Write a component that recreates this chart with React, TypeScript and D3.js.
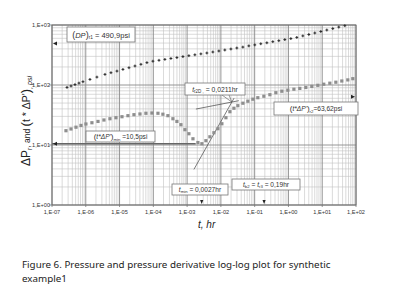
import React from 'react';
import * as d3 from 'd3';

// Pressure change (psi) vs time (hr)
const timeP = [2.78e-7, 3.65e-7, 4.79e-7, 6.29e-7, 8.26e-7, 1.33e-6, 2.14e-6, 3.7e-6, 5.57e-6, 8.38e-6,
  1.26e-5, 1.9e-5, 2.86e-5, 4.3e-5, 6.47e-5, 9.73e-5, 1.47e-4, 2.2e-4, 3.32e-4, 4.99e-4,
  7.52e-4, 1.13e-3, 1.7e-3, 2.56e-3, 3.85e-3, 5.79e-3, 8.73e-3, 1.31e-2, 1.98e-2, 2.97e-2,
  4.48e-2, 6.73e-2, 0.101, 0.152, 0.23, 0.345, 0.52, 0.782, 1.18, 1.77,
  2.67, 4.02, 6.04, 9.1, 13.7, 20.6, 31.0, 46.7];
const pressure = [91.2, 96.2, 101.6, 107.6, 113.5, 124, 135.5, 150.3, 160.3, 170.6,
  182, 194, 207.5, 221.3, 236, 249.3, 258.2, 267.3, 276.7, 286.4,
  297.2, 307.6, 318.6, 329.8, 341.4, 354.8, 368.7, 383.1, 398.1, 413.7,
  428.5, 448.5, 465.9, 486.3, 505, 527, 547.5, 571, 593, 621,
  658, 694.7, 735.6, 779, 825, 871, 923, 973];

// Pressure derivative t*dP' (psi) vs time (hr)
const timeD = [2.59e-7, 3.65e-7, 5.13e-7, 7.21e-7, 1.01e-6, 1.52e-6, 2.3e-6, 3.45e-6, 5.2e-6, 7.82e-6,
  1.18e-5, 1.77e-5, 2.67e-5, 4.02e-5, 6.04e-5, 9.1e-5, 1.37e-4, 1.92e-4, 2.7e-4, 3.8e-4,
  4.99e-4, 6.56e-4, 8.61e-4, 1.13e-3, 1.49e-3, 2.09e-3, 2.74e-3, 3.6e-3, 4.73e-3, 6.21e-3,
  8.15e-3, 1.07e-2, 1.41e-2, 1.85e-2, 2.43e-2, 3.18e-2, 4.48e-2, 6.29e-2, 8.85e-2, 0.124,
  0.187, 0.282, 0.424, 0.638, 0.96, 1.45, 2.17, 3.27, 4.92, 7.41,
  11.1, 16.8, 25.3, 38.0, 57.2, 80.4];
const derivative = [17.3, 18.5, 19.8, 21.2, 22.4, 23.5, 24.7, 26.1, 27.4, 28.5,
  29.6, 30.8, 32.0, 32.9, 33.8, 34.1, 33.8, 32.6, 30.8, 27.4,
  24.7, 21.8, 18.0, 15.4, 12.7, 11.0, 10.5, 11.8, 13.7, 16.0,
  18.7, 22.6, 28.5, 35.9, 41.0, 45.2, 49.7, 53.7, 58.0, 61.4,
  65.0, 68.9, 74.4, 78.8, 81.9, 85.1, 87.8, 90.9, 94.8, 98.8,
  103.1, 107.2, 111.3, 116.6, 121.6, 127.4];

const xTicks = [1e-7, 1e-6, 1e-5, 1e-4, 1e-3, 1e-2, 1e-1, 1, 10, 100];
const xTickLabels = ['1,E-07', '1,E-06', '1,E-05', '1,E-04', '1,E-03', '1,E-02', '1,E-01', '1,E+00', '1,E+01', '1,E+02'];
const yTicks = [1, 10, 100, 1000];
const yTickLabels = ['1,E+00', '1,E+01', '1,E+02', '1,E+03'];

// Characteristic values
const dpR1 = 490.9;
const derivMin = 10.5;
const tMin = 0.0027;
const derivR2 = 63.62;
const tR2D = 0.0211;
const tB2 = 0.19;
const crossValue = 52;

const W = 396;
const H = 297;
const FONT = 'Liberation Sans, Arial, sans-serif';

export default function App() {
  const x = d3.scaleLog().domain([1e-7, 1e2]).range([52, 356]);
  const y = d3.scaleLog().domain([1, 1000]).range([205, 25]);

  const minorX: number[] = [];
  for (let e = -7; e < 2; e++) for (let k = 2; k <= 9; k++) minorX.push(k * Math.pow(10, e));
  const minorY: number[] = [];
  for (let e = 0; e < 3; e++) for (let k = 2; k <= 9; k++) minorY.push(k * Math.pow(10, e));

  const unitSlope = (t: number) => crossValue * (t / tR2D);
  const radialLine = (t: number) => crossValue * Math.pow(t / tR2D, 0.11);
  const lineGen = d3.line<[number, number]>().x(d => x(d[0])).y(d => y(d[1]));
  const usT = [0.00159, 0.0245];
  const rlT = [0.00182, 0.034];

  const ix = x(tR2D);
  const iy = y(crossValue);

  const box = (bx: number, by: number, bw: number, bh: number) => (
    <rect x={bx} y={by} width={bw} height={bh} fill="#fff" stroke="#777" strokeWidth={0.8} />
  );

  return (
    <svg width={W} height={H} style={{ position: 'absolute', left: 0, top: 0, background: '#fff' }} fontFamily={FONT}>
      <rect x={0} y={0} width={W} height={H} fill="#fff" />
      {/* grid */}
      {minorX.map((v, i) => (
        <line key={'mx' + i} x1={x(v)} x2={x(v)} y1={25} y2={205} stroke="#c2c2c2" strokeWidth={0.6} />
      ))}
      {minorY.map((v, i) => (
        <line key={'my' + i} x1={52} x2={356} y1={y(v)} y2={y(v)} stroke="#c2c2c2" strokeWidth={0.6} />
      ))}
      {xTicks.map((v, i) => (
        <line key={'Mx' + i} x1={x(v)} x2={x(v)} y1={25} y2={207} stroke="#8a8a8a" strokeWidth={0.9} />
      ))}
      {yTicks.map((v, i) => (
        <line key={'My' + i} x1={49} x2={356} y1={y(v)} y2={y(v)} stroke="#8a8a8a" strokeWidth={0.9} />
      ))}
      <rect x={52} y={25} width={304} height={180} fill="none" stroke="#666" strokeWidth={0.9} />

      {/* tick labels */}
      {xTicks.map((v, i) => (
        <text key={'xl' + i} x={x(v)} y={214} fontSize={5.6} textAnchor="middle" fill="#333">{xTickLabels[i]}</text>
      ))}
      {yTicks.map((v, i) => (
        <text key={'yl' + i} x={50} y={y(v) + 2} fontSize={5.6} textAnchor="end" fill="#333">{yTickLabels[i]}</text>
      ))}

      {/* min derivative level line */}
      <line x1={x(1e-7)} x2={x(tMin) - 6} y1={y(derivMin)} y2={y(derivMin)} stroke="#666" strokeWidth={1.3} />

      {/* straight lines */}
      <path d={lineGen(usT.map(t => [t, unitSlope(t)]) as [number, number][]) || ''} stroke="#444" strokeWidth={0.7} fill="none" />
      <path d={lineGen(rlT.map(t => [t, radialLine(t)]) as [number, number][]) || ''} stroke="#444" strokeWidth={0.7} fill="none" />

      {/* derivative */}
      {timeD.map((t, i) => (
        <rect key={'d' + i} x={x(t) - 1.6} y={y(derivative[i]) - 1.6} width={3.2} height={3.2} fill="#8e8e8e" />
      ))}
      {/* pressure */}
      {timeP.map((t, i) => {
        const cx = x(t), cy = y(pressure[i]);
        return (
          <path key={'p' + i} d={`M${cx - 1.4},${cy}H${cx + 1.4}M${cx},${cy - 1.4}V${cy + 1.4}`} stroke="#2a2a2a" strokeWidth={1} />
        );
      })}

      {/* arrowheads */}
      <path d={`M${53},${y(dpR1)} l4,-2 v4 z`} fill="#222" />
      <path d={`M${53},${y(derivMin)} l4,-2 v4 z`} fill="#222" />
      <path d={`M${355},${y(derivR2)} l-4,-2 v4 z`} fill="#222" />
      <path d={`M${x(tMin)},${204} l-1.6,-4 h3.2 z`} fill="#222" />
      <path d={`M${x(tB2)},${204} l-1.6,-4 h3.2 z`} fill="#222" />

      {/* annotation: (DP)r1 */}
      {box(67, 27, 68, 15)}
      <text x={101} y={37.5} fontSize={7.5} textAnchor="middle" fill="#333">
        <tspan fontSize={9}>(</tspan><tspan fontStyle="italic">DP</tspan><tspan fontSize={9}>)</tspan>
        <tspan fontSize={4.8} dy={1.8}>r1</tspan><tspan dy={-1.8}> = 490,9psi</tspan>
      </text>

      {/* annotation: t_r2D */}
      <path d={`M${222},${95} L${ix},${iy} M${229},${95} L${ix},${iy}`} stroke="#555" strokeWidth={0.6} />
      {box(185, 83, 60, 12)}
      <text x={215} y={91.8} fontSize={6.8} textAnchor="middle" fill="#333">
        <tspan fontStyle="italic">t</tspan><tspan fontSize={4.5} dy={1.5}>r2D ,</tspan><tspan dy={-1.5}> = 0,0211hr</tspan>
      </text>

      {/* annotation: (t*dP')r2 */}
      {box(274, 102, 84, 13)}
      <text x={316} y={111} fontSize={6.6} textAnchor="middle" fill="#333">
        <tspan fontSize={8}>(</tspan><tspan fontStyle="italic">t*ΔP'</tspan><tspan fontSize={8}>)</tspan>
        <tspan fontSize={4.3} dy={1.5}>r2</tspan><tspan dy={-1.5}>=63,62psi</tspan>
      </text>

      {/* annotation: (t*dP')min */}
      {box(86, 131, 69, 11)}
      <text x={120.5} y={139} fontSize={6.6} textAnchor="middle" fill="#333">
        <tspan fontSize={8}>(</tspan><tspan fontStyle="italic">t*ΔP'</tspan><tspan fontSize={8}>)</tspan>
        <tspan fontSize={4.3} dy={1.5}>min</tspan><tspan dy={-1.5}> =10,5psi</tspan>
      </text>

      {/* annotation: t_min */}
      {box(172, 184, 56, 11)}
      <text x={200} y={191.8} fontSize={6.6} textAnchor="middle" fill="#333">
        <tspan fontStyle="italic">t</tspan><tspan fontSize={4.3} dy={1.5}>min</tspan><tspan dy={-1.5}> = 0,0027hr</tspan>
      </text>

      {/* annotation: t_b2 = t_r3 */}
      {box(232, 179, 68, 11)}
      <text x={266} y={186.8} fontSize={6.6} textAnchor="middle" fill="#333">
        <tspan fontStyle="italic">t</tspan><tspan fontSize={4.3} dy={1.5}>b2</tspan><tspan dy={-1.5}> = </tspan>
        <tspan fontStyle="italic">t</tspan><tspan fontSize={4.3} dy={1.5}>r3</tspan><tspan dy={-1.5}> = 0,19hr</tspan>
      </text>

      {/* axis titles */}
      <text transform="translate(30,121) rotate(-90)" textAnchor="middle" fill="#222">
        <tspan fontSize={12}>ΔP</tspan><tspan fontSize={7} dy={2}>r</tspan>
        <tspan fontSize={8.5} dy={-2}>, and </tspan>
        <tspan fontSize={13}>(</tspan><tspan fontSize={10.5}>t * ΔP'</tspan><tspan fontSize={13}>)</tspan>
        <tspan fontSize={7} fontStyle="italic" dy={2}>, psi</tspan>
      </text>
      <text x={198} y={228} fontSize={10} fontStyle="italic" fill="#222">t, hr</text>

      {/* caption */}
      <text x={22} y={268} fontSize={9.8} fill="#222" fontFamily="Noto Sans, sans-serif">
        Figure 6. Pressure and pressure derivative log-log plot for synthetic
      </text>
      <text x={22} y={281.5} fontSize={9.8} fill="#222" fontFamily="Noto Sans, sans-serif">example1</text>
    </svg>
  );
}
